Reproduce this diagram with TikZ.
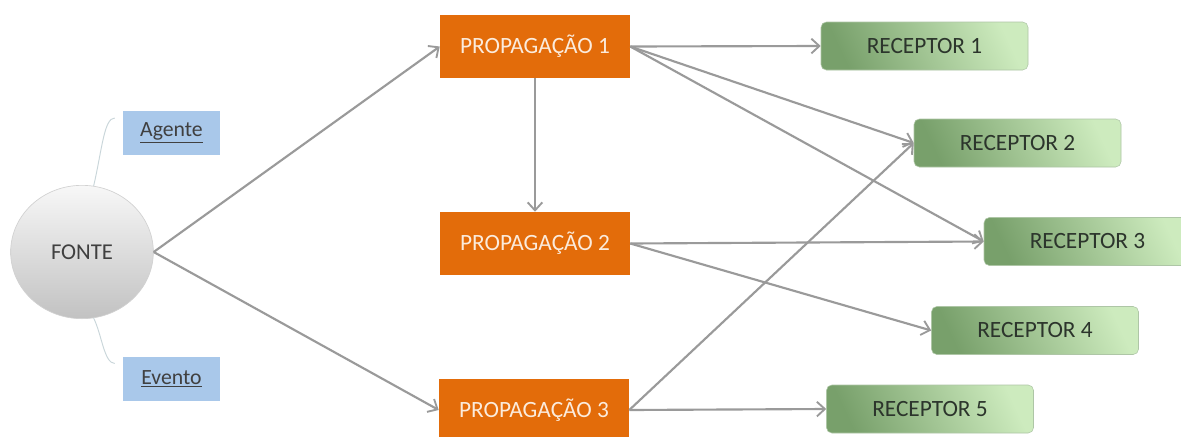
\documentclass[tikz,border=0pt]{standalone}
\usepackage{fontspec}
\setmainfont{Carlito}
\usetikzlibrary{arrows.meta,shapes.geometric,calc}
\definecolor{orng}{HTML}{E36C0A}
\definecolor{orngtxt}{HTML}{FBEBDC}
\definecolor{bluebox}{HTML}{A9C8EA}
\definecolor{txtgray}{HTML}{404040}
\definecolor{grdark}{HTML}{78A06B}
\definecolor{grlight}{HTML}{CDEBBE}
\definecolor{grtxt}{HTML}{2C352C}
\definecolor{arrgray}{HTML}{9A9A9A}
\definecolor{brk}{HTML}{C9D6DA}
\tikzset{
  propbox/.style={fill=orng, text=orngtxt, minimum width=142.5pt, minimum height=47.25pt, inner sep=0pt, font=\fontsize{17.5}{20}\selectfont},
  recbox/.style={rounded corners=4pt, draw=grdark!60, line width=0.4pt, left color=grdark, right color=grlight, shading angle=115, text=grtxt, minimum width=155.25pt, minimum height=36pt, inner sep=0pt, font=\fontsize{17.5}{20}\selectfont},
  tagbox/.style={fill=bluebox, text=txtgray, minimum width=72.75pt, minimum height=33pt, inner sep=0pt, font=\fontsize{16.3}{19}\selectfont},
  srcnode/.style={ellipse, draw=black!18, line width=0.5pt, top color=black!3, bottom color=black!24, text=txtgray, minimum width=107pt, minimum height=100pt, inner sep=0pt, font=\fontsize{17}{20}\selectfont},
  conn/.style={draw=arrgray, line width=1.6pt, -{Straight Barb[length=6pt,width=11pt,line width=1.4pt]}},
  brack/.style={draw=brk, line width=0.7pt}
}
\begin{document}
\begin{tikzpicture}[x=0.75pt,y=-0.75pt]
\useasboundingbox (0,0) rectangle (1181,436);
\clip (0,0) rectangle (1181,436);
\fill[white] (0,0) rectangle (1181,436);
% nodes
\node[srcnode] (fonte) at (82,252) {FONTE};
\node[tagbox] (agente) at (171.5,133) {\underline{Agente}};
\node[tagbox] (evento) at (171.5,378.5) {\underline{Evento}};
\node[propbox] (p1) at (535,46.5) {PROPAGAÇÃO 1};
\node[propbox] (p2) at (535,243.5) {PROPAGAÇÃO 2};
\node[propbox] (p3) at (534,410) {PROPAGAÇÃO 3};
\node[recbox] (r1) at (924.5,46) {RECEPTOR 1};
\node[recbox] (r2) at (1017.5,143) {RECEPTOR 2};
\node[recbox] (r3) at (1087.5,241.5) {RECEPTOR 3};
\node[recbox] (r4) at (1035,330.5) {RECEPTOR 4};
\node[recbox] (r5) at (930,409) {RECEPTOR 5};
% brackets
\coordinate (agL) at ($(agente.west)+(-8,-15)$);
\coordinate (evL) at ($(evento.west)+(-8,-15)$);
\draw[brack] (fonte.80) .. controls (102,150) and (104,118) .. (agL);
\draw[brack] (fonte.-80) .. controls (102,335) and (104,363) .. (evL);
% connectors
\draw[conn] (fonte.east) -- (p1.west);
\draw[conn] (fonte.east) -- (p3.west);
\draw[conn] (p1.south) -- (p2.north);
\draw[conn] (p1.east) -- (r1.west);
\draw[conn] (p1.east) -- (r2.west);
\draw[conn] (p1.east) -- (r3.west);
\draw[conn] (p2.east) -- (r3.west);
\draw[conn] (p2.east) -- (r4.west);
\draw[conn] (p3.east) -- (r2.west);
\draw[conn] (p3.east) -- (r5.west);
\end{tikzpicture}
\end{document}
